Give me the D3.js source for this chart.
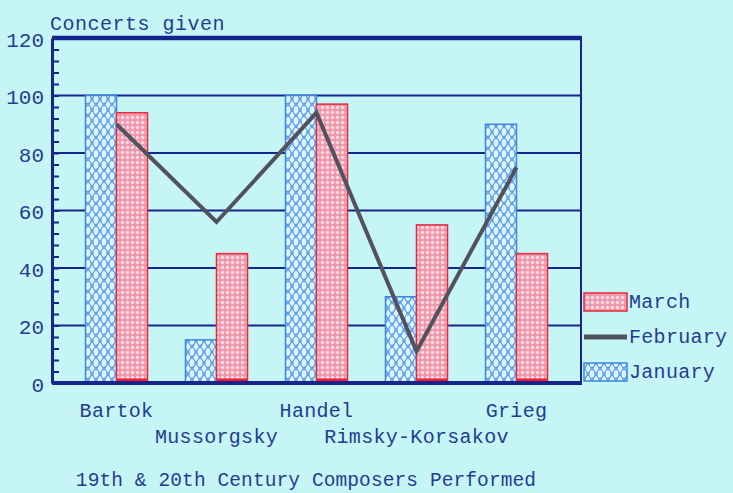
<!DOCTYPE html>
<html>
<head>
<meta charset="utf-8">
<script src="https://cdn.jsdelivr.net/npm/d3@7"></script>
<style>
  html, body { margin: 0; padding: 0; background: #c6f5f6; }
  svg { display: block; }
  text { font-family: "Liberation Mono", "DejaVu Sans Mono", monospace; fill: #233d90; }
</style>
</head>
<body>
<svg id="chart" width="733" height="493"></svg>
<script>
// Concerts given per composer, by month
const composers = ["Bartok", "Mussorgsky", "Handel", "Rimsky-Korsakov", "Grieg"];
const january = [100, 15, 100, 30, 90];
const february = [90, 56, 94, 11, 75];
const march = [94, 45, 97, 55, 45];
const yTicks = [0, 20, 40, 60, 80, 100, 120];
const legendItems = ["March", "February", "January"];

const svg = d3.select("#chart");
const W = 733, H = 493;
const plotLeft = 52, plotRight = 581, plotTop = 38, plotBottom = 383;
const navy = "#16258c";
const ink = "#233d90";

svg.append("rect").attr("width", W).attr("height", H).attr("fill", "#c6f5f6");

// Fill patterns
const defs = svg.append("defs");
const jan = defs.append("pattern").attr("id", "janFill")
  .attr("patternUnits", "userSpaceOnUse").attr("width", 8).attr("height", 11);
jan.append("rect").attr("width", 8).attr("height", 11).attr("fill", "#9fd2f6");
[[4, 5.5], [0, 0], [8, 0], [0, 11], [8, 11]].forEach(([cx, cy]) => {
  jan.append("ellipse").attr("cx", cx).attr("cy", cy).attr("rx", 3.1).attr("ry", 4.5)
    .attr("fill", "#dcf2fd").attr("stroke", "#4a96e6").attr("stroke-width", 1.1);
});

const mar = defs.append("pattern").attr("id", "marFill")
  .attr("patternUnits", "userSpaceOnUse").attr("width", 5).attr("height", 5);
mar.append("rect").attr("width", 5).attr("height", 5).attr("fill", "#ef98ab");
mar.append("circle").attr("cx", 2.5).attr("cy", 2.5).attr("r", 1.7).attr("fill", "#fadbe3");

// Scales
const x = d3.scalePoint().domain(composers).range([plotLeft, plotRight]).padding(0.645);
const y = d3.scaleLinear().domain([0, 120]).range([plotBottom, plotTop]);
const barW = 31;

// Gridlines
svg.append("g").selectAll("line")
  .data(yTicks.filter(v => v > 0 && v < 120))
  .join("line")
  .attr("x1", plotLeft).attr("x2", plotRight)
  .attr("y1", d => y(d)).attr("y2", d => y(d))
  .attr("stroke", navy).attr("stroke-width", 2);

// Bars
const groups = svg.append("g").selectAll("g")
  .data(composers.map((c, i) => ({ c, jan: january[i], mar: march[i] })))
  .join("g");

groups.append("rect")
  .attr("x", d => x(d.c) - barW)
  .attr("y", d => y(d.jan))
  .attr("width", barW)
  .attr("height", d => y(0) - y(d.jan))
  .attr("fill", "url(#janFill)")
  .attr("stroke", "#3b86e0").attr("stroke-width", 1.5);

groups.append("rect")
  .attr("x", d => x(d.c))
  .attr("y", d => y(d.mar))
  .attr("width", barW)
  .attr("height", d => y(0) - y(d.mar))
  .attr("fill", "url(#marFill)")
  .attr("stroke", "#e8283c").attr("stroke-width", 1.5);

groups.append("line")
  .attr("x1", d => x(d.c)).attr("x2", d => x(d.c) + barW)
  .attr("y1", y(0) - 3).attr("y2", y(0) - 3)
  .attr("stroke", "#f01d33").attr("stroke-width", 3);

// February line
const line = d3.line().x((d, i) => x(composers[i])).y(d => y(d));
svg.append("path")
  .datum(february)
  .attr("d", line)
  .attr("fill", "none")
  .attr("stroke", "#52525e")
  .attr("stroke-width", 4)
  .attr("stroke-linejoin", "miter");

// Frame
svg.append("line").attr("x1", plotLeft).attr("x2", plotRight).attr("y1", y(120)).attr("y2", y(120))
  .attr("stroke", navy).attr("stroke-width", 4.5);
svg.append("line").attr("x1", plotLeft).attr("x2", plotRight).attr("y1", y(0)).attr("y2", y(0))
  .attr("stroke", navy).attr("stroke-width", 4);
svg.append("line").attr("x1", plotRight).attr("x2", plotRight).attr("y1", y(120) - 2).attr("y2", y(0) + 2)
  .attr("stroke", navy).attr("stroke-width", 2);

// Y axis: labels, major and minor ticks pointing inward
const yAxis = d3.axisLeft(y).tickValues(yTicks).tickSize(0).tickPadding(8).tickFormat(d3.format("d"));
const ya = svg.append("g").attr("transform", `translate(${plotLeft},0)`).call(yAxis);
ya.select(".domain").attr("stroke", navy).attr("stroke-width", 3);
ya.selectAll("text").style("font-size", "21px").attr("fill", ink)
  .style("font-family", "'Liberation Mono', 'DejaVu Sans Mono', monospace").attr("dy", "0.4em");

const minor = d3.axisRight(y).tickValues(d3.range(0, 121, 4)).tickSize(7).tickFormat("");
const ym = svg.append("g").attr("transform", `translate(${plotLeft},0)`).call(minor);
ym.select(".domain").remove();
ym.selectAll("line").attr("stroke", navy).attr("stroke-width", 2);

// Category labels, staggered on two rows
svg.append("g").selectAll("text")
  .data(composers)
  .join("text")
  .attr("x", d => x(d))
  .attr("y", (d, i) => i % 2 === 0 ? 417 : 443)
  .attr("text-anchor", "middle")
  .style("font-size", "20px")
  .style("letter-spacing", "0.3px")
  .text(d => d);

// Axis title
svg.append("text").attr("x", 50).attr("y", 30)
  .style("font-size", "20px").style("letter-spacing", "0.5px")
  .text("Concerts given");

// Chart title
svg.append("text").attr("x", 306).attr("y", 486).attr("text-anchor", "middle")
  .style("font-size", "19.5px").style("letter-spacing", "0.1px")
  .text("19th & 20th Century Composers Performed");

// Legend
const lg = svg.append("g");
const lx = 584, sw = 43;
const ly = [302, 337, 372];
legendItems.forEach((name, i) => {
  const cy = ly[i];
  if (name === "February") {
    lg.append("line").attr("x1", lx).attr("x2", lx + sw).attr("y1", cy).attr("y2", cy)
      .attr("stroke", "#52525e").attr("stroke-width", 5);
  } else {
    lg.append("rect").attr("x", lx).attr("y", cy - 9).attr("width", sw).attr("height", 18)
      .attr("fill", name === "March" ? "url(#marFill)" : "url(#janFill)")
      .attr("stroke", name === "March" ? "#e8283c" : "#3b86e0").attr("stroke-width", 1.5);
  }
  lg.append("text").attr("x", lx + sw + 2).attr("y", cy + 6)
    .style("font-size", "20px").style("letter-spacing", "0.3px")
    .text(name);
});
</script>
</body>
</html>
